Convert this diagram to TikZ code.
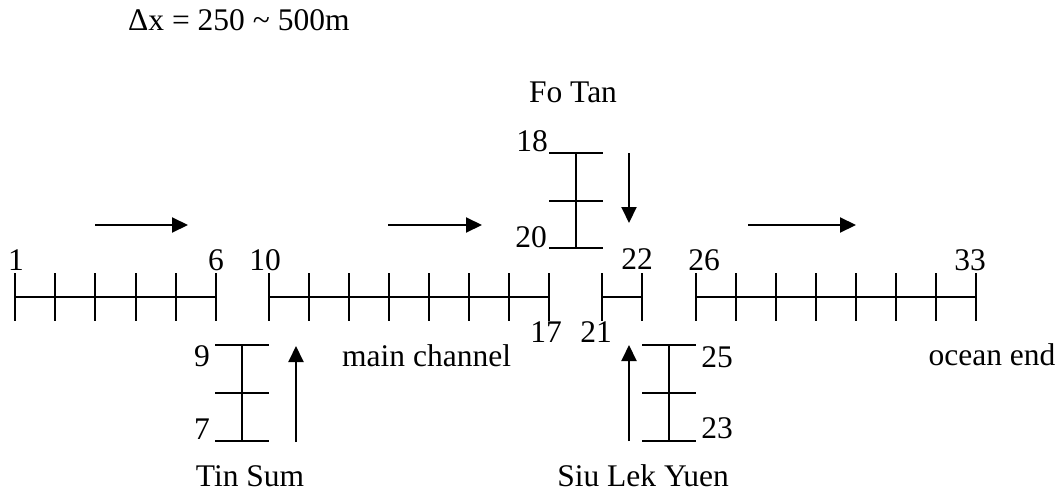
\documentclass[tikz,border=0pt]{standalone}
\usepackage{fontspec}
\setmainfont{Liberation Serif}
\usetikzlibrary{arrows.meta}
\tikzset{
  lbl/.style={font=\fontsize{31.5}{36}\selectfont, inner sep=0pt, anchor=base},
  chan/.style={line width=2pt},
  flow/.style={line width=2pt, -{Triangle[length=16pt,width=15pt]}}
}
\begin{document}
\begin{tikzpicture}[x=1pt,y=-1pt]
\useasboundingbox (0,0) rectangle (1064,495);
% main channel nodes
\foreach \i in {1,...,6} \coordinate (p\i) at ({15+40.2*(\i-1)},297);
\foreach \i in {10,...,17} \coordinate (p\i) at ({269+40*(\i-10)},297);
\coordinate (p21) at (602,297);
\coordinate (p22) at (642,297);
\foreach \i in {26,...,33} \coordinate (p\i) at ({696+40*(\i-26)},297);
% branches
\coordinate (p9) at (242,345); \coordinate (p8) at (242,393); \coordinate (p7) at (242,441);
\coordinate (p18) at (576,153); \coordinate (p19) at (576,201); \coordinate (p20) at (576,248);
\coordinate (p25) at (669,345); \coordinate (p24) at (669,393); \coordinate (p23) at (669,441);
% channel lines
\draw[chan] (p1) -- (p6);
\draw[chan] (p10) -- (p17);
\draw[chan] (p21) -- (p22);
\draw[chan] (p26) -- (p33);
\draw[chan] (p9) -- (p7);
\draw[chan] (p18) -- (p20);
\draw[chan] (p25) -- (p23);
% ticks
\foreach \i in {1,...,6,10,11,...,17,21,22,26,27,...,33}
  \draw[chan] ([yshift=24pt]p\i) -- ([yshift=-24pt]p\i);
\foreach \i in {7,8,9,18,19,20,23,24,25}
  \draw[chan] ([xshift=-27pt]p\i) -- ([xshift=27pt]p\i);
% flow arrows
\coordinate (a1s) at (95,225);  \coordinate (a1e) at (188,225);
\coordinate (a2s) at (388,225); \coordinate (a2e) at (482,225);
\coordinate (a3s) at (748,225); \coordinate (a3e) at (856,225);
\coordinate (fts) at (629,153); \coordinate (fte) at (629,223);
\coordinate (tss) at (296,442); \coordinate (tse) at (296,346);
\coordinate (sls) at (629,441); \coordinate (sle) at (629,345);
\draw[flow] (a1s) -- (a1e);
\draw[flow] (a2s) -- (a2e);
\draw[flow] (a3s) -- (a3e);
\draw[flow] (fts) -- (fte);
\draw[flow] (tss) -- (tse);
\draw[flow] (sls) -- (sle);
% labels
\node[lbl] (l1) at (16,270) {1};
\node[lbl] (l6) at (216,270) {6};
\node[lbl] (l10) at (265,270) {10};
\node[lbl] (l22) at (637,269) {22};
\node[lbl] (l26) at (704,270) {26};
\node[lbl] (l33) at (970,270) {33};
\node[lbl] (l17) at (546,342) {17};
\node[lbl] (l21) at (596,342) {21};
\node[lbl] (l18) at (532,151) {18};
\node[lbl] (l20) at (531,247) {20};
\node[lbl] (l25) at (717,367) {25};
\node[lbl] (l23) at (717,438) {23};
\node[lbl] (l9) at (202,366) {9};
\node[lbl] (l7) at (202,439) {7};
\node[lbl] (fotan) at (573,102) {Fo Tan};
\node[lbl] (tinsum) at (250,486) {Tin Sum};
\node[lbl] (sly) at (643,486) {Siu Lek Yuen};
\node[lbl, anchor=base west] (mainch) at (342,366) {main channel};
\node[lbl] (ocean) at (992,365) {ocean end};
\node[lbl, anchor=base west] (dx) at (128,31) {Δx = 250 \textasciitilde{} 500m};
\end{tikzpicture}
\end{document}
